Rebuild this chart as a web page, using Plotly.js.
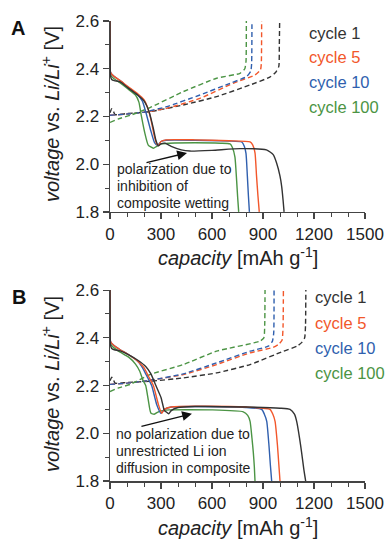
<!DOCTYPE html>
<html>
<head>
<meta charset="utf-8">
<script src="https://cdn.plot.ly/plotly-3.0.1.min.js"></script>
<style>html,body{margin:0;padding:0;background:#fff;}#chart{width:387px;height:539px;}</style>
</head>
<body>
<div id="chart"></div>
<script>
// ---------- Data ----------
const cycles = ["cycle 1", "cycle 5", "cycle 10", "cycle 100"];
const colors = ["#333333", "#f2572b", "#2f5fae", "#4b9444"];

// Panel A — discharge (solid)
const A_dis_cap_c1 = [0,1,3,10,25,60,106,163,200,230,255,270,284,300,323,360,420,470,600,765,920,960,980,1000,1010,1018,1024];
const A_dis_v_c1   = [2.6,2.45,2.37,2.355,2.35,2.345,2.32,2.29,2.265,2.22,2.15,2.10,2.077,2.085,2.088,2.075,2.06,2.055,2.058,2.065,2.06,2.04,2.005,1.95,1.906,1.85,1.8];
const A_dis_cap_c5 = [0,1,3,20,60,106,163,200,220,240,260,275,285,300,330,500,700,824,840,853,862,870,878];
const A_dis_v_c5   = [2.6,2.45,2.385,2.37,2.35,2.325,2.295,2.27,2.24,2.19,2.12,2.085,2.078,2.095,2.102,2.102,2.098,2.093,2.08,2.047,1.95,1.87,1.8];
const A_dis_cap_c10 = [0,1,3,20,60,106,163,190,210,240,262,280,300,330,500,700,775,790,800,808,814,820];
const A_dis_v_c10   = [2.6,2.45,2.385,2.37,2.35,2.322,2.29,2.265,2.22,2.14,2.09,2.078,2.095,2.1,2.1,2.097,2.093,2.075,2.045,1.95,1.87,1.8];
const A_dis_cap_c100 = [0,1,3,20,60,106,150,170,185,205,225,255,275,300,350,500,650,706,720,735,745,751,757];
const A_dis_v_c100   = [2.6,2.45,2.375,2.36,2.34,2.315,2.29,2.26,2.2,2.13,2.08,2.067,2.075,2.085,2.088,2.09,2.088,2.085,2.07,2.03,1.93,1.86,1.8];

// Panel A — charge (dashed)
const A_ch_cap_c1 = [0,10,20,30,100,235,431,627,824,940,975,993,996,998];
const A_ch_v_c1   = [2.215,2.232,2.222,2.208,2.212,2.22,2.248,2.283,2.332,2.365,2.385,2.41,2.5,2.6];
const A_ch_cap_c5 = [0,100,200,333,529,725,853,885,890,892];
const A_ch_v_c5   = [2.205,2.21,2.218,2.234,2.276,2.339,2.374,2.395,2.42,2.6];
const A_ch_cap_c10 = [0,100,200,333,529,706,804,828,833,835];
const A_ch_v_c10   = [2.205,2.21,2.218,2.241,2.29,2.339,2.367,2.39,2.42,2.6];
const A_ch_cap_c100 = [0,50,120,235,431,627,765,793,800,802];
const A_ch_v_c100   = [2.175,2.19,2.205,2.237,2.304,2.36,2.381,2.40,2.43,2.6];

// Panel B — discharge (solid)
const B_dis_cap_c1 = [0,1,3,10,25,60,108,166,210,240,270,300,320,330,345,360,400,500,800,1000,1059,1085,1098,1115,1127,1140,1151];
const B_dis_v_c1   = [2.6,2.45,2.37,2.355,2.35,2.345,2.33,2.305,2.28,2.25,2.2,2.15,2.095,2.09,2.082,2.095,2.108,2.112,2.11,2.105,2.10,2.08,2.05,1.98,1.92,1.85,1.8];
const B_dis_cap_c5 = [0,1,3,20,60,108,166,200,225,255,285,304,320,360,500,800,941,958,971,985,993,1000];
const B_dis_v_c5   = [2.6,2.45,2.385,2.37,2.35,2.33,2.30,2.275,2.24,2.2,2.12,2.084,2.1,2.11,2.113,2.11,2.10,2.08,2.05,1.95,1.87,1.8];
const B_dis_cap_c10 = [0,1,3,20,60,108,166,195,220,245,275,300,320,360,500,800,892,908,922,935,943,951];
const B_dis_v_c10   = [2.6,2.45,2.385,2.37,2.35,2.33,2.30,2.27,2.235,2.2,2.12,2.084,2.1,2.11,2.112,2.108,2.10,2.08,2.05,1.95,1.87,1.8];
const B_dis_cap_c100 = [0,1,3,20,60,108,150,175,195,210,225,240,260,290,350,600,784,810,824,835,843,849,853];
const B_dis_v_c100   = [2.6,2.45,2.375,2.36,2.34,2.32,2.29,2.26,2.22,2.2,2.14,2.085,2.08,2.092,2.098,2.098,2.09,2.075,2.05,1.98,1.92,1.86,1.8];

// Panel B — charge (dashed)
const B_ch_cap_c1 = [0,10,20,30,100,235,431,627,824,1020,1100,1127,1145,1150,1152];
const B_ch_v_c1   = [2.22,2.235,2.225,2.21,2.213,2.218,2.232,2.253,2.288,2.344,2.365,2.38,2.40,2.45,2.6];
const B_ch_cap_c5 = [0,100,235,431,627,824,960,990,1012,1018,1020];
const B_ch_v_c5   = [2.205,2.21,2.222,2.246,2.288,2.337,2.36,2.372,2.39,2.45,2.6];
const B_ch_cap_c10 = [0,100,235,431,627,824,931,955,963,965];
const B_ch_v_c10   = [2.205,2.21,2.222,2.249,2.295,2.344,2.365,2.385,2.42,2.6];
const B_ch_cap_c100 = [0,50,120,235,431,627,882,905,910,912];
const B_ch_v_c100   = [2.175,2.19,2.205,2.246,2.288,2.344,2.386,2.40,2.45,2.6];

const xTickVals = [0,300,600,900,1200,1500];
const yTickVals = [1.8,2.0,2.2,2.4,2.6];
const noteA = ["polarization due to", "inhibition of", "composite wetting"];
const noteB = ["no polarization due to", "unrestricted Li ion", "diffusion in composite"];

// ---------- Build traces ----------
const FONT = "Liberation Sans, Arial, sans-serif";
const W = 387, H = 539, ML = 110, MR = 22, MT = 21, MB = 58;
const PW = W - ML - MR, PH = H - MT - MB;
const px = x => (x - ML) / PW;
const py = y => (H - MB - y) / PH;

function line(xs, ys, ci, dashed, xa, ya) {
  return {x: xs, y: ys, type: "scatter", mode: "lines", xaxis: xa, yaxis: ya,
    showlegend: false, hoverinfo: "skip",
    line: {color: colors[ci], width: 1.4, dash: dashed ? "5px,3px" : "solid", shape: "spline", smoothing: 0.5}};
}
const traces = [
  line(A_ch_cap_c1, A_ch_v_c1, 0, true, "x", "y"),
  line(A_ch_cap_c5, A_ch_v_c5, 1, true, "x", "y"),
  line(A_ch_cap_c10, A_ch_v_c10, 2, true, "x", "y"),
  line(A_ch_cap_c100, A_ch_v_c100, 3, true, "x", "y"),
  line(A_dis_cap_c100, A_dis_v_c100, 3, false, "x", "y"),
  line(A_dis_cap_c10, A_dis_v_c10, 2, false, "x", "y"),
  line(A_dis_cap_c5, A_dis_v_c5, 1, false, "x", "y"),
  line(A_dis_cap_c1, A_dis_v_c1, 0, false, "x", "y"),
  line(B_ch_cap_c1, B_ch_v_c1, 0, true, "x2", "y2"),
  line(B_ch_cap_c5, B_ch_v_c5, 1, true, "x2", "y2"),
  line(B_ch_cap_c10, B_ch_v_c10, 2, true, "x2", "y2"),
  line(B_ch_cap_c100, B_ch_v_c100, 3, true, "x2", "y2"),
  line(B_dis_cap_c100, B_dis_v_c100, 3, false, "x2", "y2"),
  line(B_dis_cap_c10, B_dis_v_c10, 2, false, "x2", "y2"),
  line(B_dis_cap_c5, B_dis_v_c5, 1, false, "x2", "y2"),
  line(B_dis_cap_c1, B_dis_v_c1, 0, false, "x2", "y2")
];

function xAxis(anchor) {
  return {anchor: anchor, range: [0, 1500], tickvals: xTickVals, ticks: "outside", ticklen: 6, tickwidth: 1.2,
    tickcolor: "#444", showline: true, linecolor: "#444", linewidth: 1.5, showgrid: false, zeroline: false,
    tickfont: {family: FONT, size: 17, color: "#222"}, fixedrange: true,
    minor: {dtick: 100, ticks: "outside", ticklen: 4, tickcolor: "#444", tickwidth: 1, showgrid: false}};
}
function yAxis(anchor, domain) {
  return {anchor: anchor, domain: domain, range: [1.8, 2.6], tickvals: yTickVals, tickformat: ".1f",
    ticks: "outside", ticklen: 6, tickwidth: 1.2, tickcolor: "#444", showline: true, linecolor: "#444",
    linewidth: 1.5, showgrid: false, zeroline: false, fixedrange: true,
    tickfont: {family: FONT, size: 17, color: "#222"},
    minor: {dtick: 0.1, ticks: "outside", ticklen: 4, tickcolor: "#444", tickwidth: 1, showgrid: false}};
}

const ann = [];
function txt(text, x, y, size, color, xanchor, extra) {
  ann.push(Object.assign({text: text, xref: "paper", yref: "paper", x: px(x), y: py(y), xanchor: xanchor || "left",
    yanchor: "middle", showarrow: false, font: {family: FONT, size: size, color: color || "#222"}}, extra || {}));
}
// panel letters
txt("<b>A</b>", 18, 28, 20, "#111", "center");
txt("<b>B</b>", 19, 297, 20, "#111", "center");
// axis titles
const yTitle = "<i>voltage</i> vs. <i>Li/Li</i><sup>+</sup> [V]";
const xTitle = "<i>capacity</i> [mAh g<sup>-1</sup>]";
txt(yTitle, 50, 114, 20, "#222", "center", {textangle: -90});
txt(yTitle, 50, 384, 20, "#222", "center", {textangle: -90});
txt(xTitle, 238, 256, 20, "#222", "center");
txt(xTitle, 238, 526, 20, "#222", "center");
// legends
const legAy = [33, 57, 82, 107], legBy = [297, 323, 348, 373];
cycles.forEach((c, i) => { txt(c, 307, legAy[i], 16.5, colors[i]); txt(c, 313, legBy[i], 16.5, colors[i]); });
// notes
[169, 186, 203].forEach((y, i) => txt(noteA[i], 115, y, 14, "#222"));
[434, 451, 468].forEach((y, i) => txt(noteB[i], 114, y, 14, "#222"));
// arrows
ann.push({xref: "x", yref: "y", x: 453, y: 2.047, ax: -42, ay: 10, text: "", showarrow: true,
  arrowhead: 2, arrowsize: 1.4, arrowwidth: 1.4, arrowcolor: "#111"});
ann.push({xref: "x2", yref: "y2", x: 482, y: 2.082, ax: -52, ay: 13, text: "", showarrow: true,
  arrowhead: 2, arrowsize: 1.4, arrowwidth: 1.4, arrowcolor: "#111"});

const layout = {
  width: W, height: H, margin: {l: ML, r: MR, t: MT, b: MB}, paper_bgcolor: "#fff", plot_bgcolor: "#fff",
  showlegend: false, font: {family: FONT},
  xaxis: xAxis("y"), yaxis: yAxis("x", [0.585, 1]),
  xaxis2: xAxis("y2"), yaxis2: yAxis("x2", [0, 0.415]),
  annotations: ann
};
Plotly.newPlot("chart", traces, layout, {displayModeBar: false, staticPlot: true});
</script>
</body>
</html>
